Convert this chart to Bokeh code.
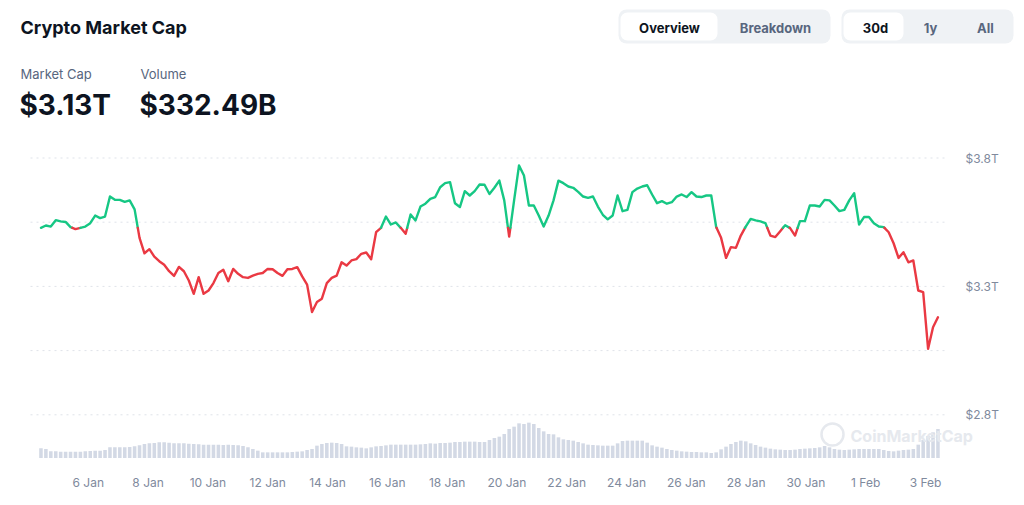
import numpy as np
import pandas as pd
from bokeh.plotting import figure
from bokeh.models import Range1d
from bokeh.core.properties import value
from bokeh.embed import file_html
from bokeh.resources import INLINE

# ---------------- data ----------------
start_time = "2025-01-04 10:00"
end_time = "2025-02-03 10:00"

market_cap_t = [
    3.528, 3.537, 3.533, 3.558, 3.553, 3.551, 3.531, 3.523, 3.528, 3.533,
    3.546, 3.576, 3.566, 3.572, 3.650, 3.637, 3.637, 3.629, 3.635, 3.600,
    3.489, 3.429, 3.445, 3.416, 3.398, 3.384, 3.359, 3.341, 3.376, 3.359,
    3.323, 3.271, 3.336, 3.271, 3.284, 3.313, 3.352, 3.365, 3.320, 3.368,
    3.349, 3.336, 3.333, 3.342, 3.349, 3.352, 3.368, 3.367, 3.352, 3.341,
    3.367, 3.368, 3.375, 3.339, 3.307, 3.200, 3.239, 3.252, 3.313, 3.333,
    3.342, 3.394, 3.381, 3.401, 3.406, 3.427, 3.432, 3.406, 3.511, 3.528,
    3.572, 3.541, 3.549, 3.528, 3.505, 3.580, 3.557, 3.611, 3.622, 3.641,
    3.648, 3.686, 3.702, 3.706, 3.624, 3.609, 3.671, 3.654, 3.671, 3.697,
    3.696, 3.660, 3.684, 3.712, 3.635, 3.494, 3.635, 3.771, 3.732, 3.615,
    3.615, 3.576, 3.533, 3.576, 3.635, 3.712, 3.702, 3.689, 3.684, 3.668,
    3.650, 3.645, 3.650, 3.611, 3.579, 3.561, 3.576, 3.654, 3.593, 3.598,
    3.667, 3.681, 3.689, 3.694, 3.658, 3.624, 3.632, 3.622, 3.628, 3.650,
    3.658, 3.648, 3.667, 3.650, 3.648, 3.654, 3.654, 3.531, 3.489, 3.411,
    3.453, 3.450, 3.498, 3.533, 3.563, 3.557, 3.553, 3.546, 3.498, 3.492,
    3.515, 3.538, 3.527, 3.498, 3.554, 3.554, 3.615, 3.615, 3.611, 3.637,
    3.635, 3.615, 3.593, 3.598, 3.635, 3.663, 3.541, 3.570, 3.570, 3.546,
    3.533, 3.531, 3.511, 3.468, 3.411, 3.433, 3.394, 3.401, 3.284, 3.278,
    3.057, 3.141, 3.180,
]

volume_b = [
    87, 81, 60, 60, 57, 57, 57, 57, 57, 60,
    63, 66, 66, 72, 96, 96, 96, 96, 99, 105,
    114, 126, 132, 135, 141, 141, 138, 132, 132, 132,
    129, 126, 123, 120, 120, 120, 120, 117, 120, 117,
    114, 108, 96, 81, 66, 51, 51, 51, 51, 51,
    51, 54, 57, 60, 72, 81, 111, 126, 135, 138,
    135, 126, 105, 102, 96, 93, 87, 96, 105, 108,
    114, 120, 120, 120, 120, 120, 120, 123, 126, 132,
    129, 135, 135, 138, 144, 144, 147, 147, 147, 144,
    144, 162, 180, 192, 216, 261, 282, 312, 306, 318,
    306, 270, 240, 216, 213, 186, 168, 162, 156, 144,
    132, 120, 117, 114, 111, 111, 111, 132, 153, 156,
    156, 156, 156, 138, 114, 102, 93, 81, 72, 66,
    60, 57, 54, 54, 51, 51, 45, 51, 78, 102,
    126, 144, 156, 150, 132, 117, 102, 93, 84, 78,
    75, 72, 72, 75, 81, 84, 87, 90, 96, 108,
    96, 81, 75, 72, 75, 78, 81, 81, 81, 81,
    81, 72, 63, 60, 66, 72, 75, 81, 120, 162,
    198, 231, 261,
]

tick_dates = ["2025-01-06", "2025-01-08", "2025-01-10", "2025-01-12", "2025-01-14",
              "2025-01-16", "2025-01-18", "2025-01-20", "2025-01-22", "2025-01-24",
              "2025-01-26", "2025-01-28", "2025-01-30", "2025-02-01", "2025-02-03"]
tick_labels = ["6 Jan", "8 Jan", "10 Jan", "12 Jan", "14 Jan", "16 Jan", "18 Jan",
               "20 Jan", "22 Jan", "24 Jan", "26 Jan", "28 Jan", "30 Jan", "1 Feb", "3 Feb"]
y_label_ticks = [2.8, 3.3, 3.8]
y_tick_labels = ["$2.8T", "$3.3T", "$3.8T"]
y_grid_ticks = [2.8, 3.05, 3.3, 3.55, 3.8]

header_title = "Crypto Market Cap"
stat_names = ["Market Cap", "Volume"]
stat_values = ["$3.13T", "$332.49B"]
view_tabs = ["Overview", "Breakdown"]
range_tabs = ["30d", "1y", "All"]

# ---------------- styles / layout (image pixels) ----------------
FONT = value("Inter")
GREEN = "#16c784"
RED = "#ea3943"
DARK = "#0d1421"
GRAY = "#58667e"
AXIS_GRAY = "#808a9d"

W, H = 1016, 497            # canvas, placed at the image origin
PX_PER_DAY = 29.9
X_ANCHOR_PAGE = 87.8        # image x of first tick date
Y38_PAGE, PX_PER_T = 157.5, 256.8
VOL_BASE_PAGE, VOL_PER_PX = 457.5, 9.0
DAY_MS = 86400000.0

anchor_ms = pd.Timestamp(tick_dates[0]).value / 1e6
x_lo = anchor_ms + (0 - X_ANCHOR_PAGE) / PX_PER_DAY * DAY_MS
x_hi = anchor_ms + (W - X_ANCHOR_PAGE) / PX_PER_DAY * DAY_MS
y_hi = 3.8 + Y38_PAGE / PX_PER_T
y_lo = 3.8 - (H - Y38_PAGE) / PX_PER_T

p = figure(width=W, height=H, x_range=Range1d(x_lo, x_hi), y_range=Range1d(y_lo, y_hi),
           x_axis_location=None, y_axis_location=None, toolbar_location=None,
           output_backend="svg", min_border=0, outline_line_color=None)
p.grid.visible = False
p.extra_x_ranges = {"px": Range1d(0, W)}
p.extra_y_ranges = {"py": Range1d(H, 0),
                    "vol": Range1d(-(H - VOL_BASE_PAGE) * VOL_PER_PX,
                                   VOL_BASE_PAGE * VOL_PER_PX)}

# ---------------- header ----------------
p.quad(left=[618, 841], right=[830, 1013], top=[9, 9], bottom=[43, 43],
       fill_color="#eff2f5", line_color=None, border_radius=8,
       x_range_name="px", y_range_name="py")
p.quad(left=[620, 843], right=[717, 903], top=[12, 12], bottom=[40, 40],
       fill_color="#ffffff", line_color=None, border_radius=7,
       x_range_name="px", y_range_name="py")

def ptext(xs, ys, texts, size, color, bold=True, align="left"):
    p.text(x=xs, y=ys, text=texts, text_font=FONT, text_font_size=size,
           text_color=color, text_font_style="bold" if bold else "normal",
           text_align=align, text_baseline="middle",
           x_range_name="px", y_range_name="py")

ptext([20], [27], [header_title], "18px", DARK)
ptext([20, 140], [73, 73], stat_names, "13px", GRAY, bold=False)
ptext([19, 139], [104, 104], stat_values, "28px", DARK)
ptext([669], [27], [view_tabs[0]], "13px", DARK, align="center")
ptext([775], [27], [view_tabs[1]], "13px", GRAY, align="center")
ptext([875], [27], [range_tabs[0]], "13px", DARK, align="center")
ptext([930, 985], [27, 27], range_tabs[1:], "13px", GRAY, align="center")

# ---------------- chart ----------------
times = pd.date_range(start_time, end_time, periods=len(market_cap_t))
t_ms = (times.astype("int64") // 10**6).to_numpy().astype(float)
mc = np.array(market_cap_t, dtype=float)
vol = np.array(volume_b, dtype=float)

# dotted grid lines (plot area spans image x 30..945)
p.segment(x0=[30] * len(y_grid_ticks), x1=[945] * len(y_grid_ticks),
          y0=y_grid_ticks, y1=y_grid_ticks, line_color="#dfe3e9",
          line_dash="2 4", line_width=1, x_range_name="px")

step_ms = t_ms[1] - t_ms[0]
p.vbar(x=t_ms, top=vol, bottom=0, width=step_ms * 0.72, y_range_name="vol",
       fill_color="#d3d9e5", line_color=None)

# watermark
p.scatter(x=[832], y=[434], marker="circle", size=22, fill_color=None,
          line_color="#e6e9ee", line_width=2.5, x_range_name="px", y_range_name="py")
ptext([850], [435], ["CoinMarketCap"], "16px", "#e6e9ee")

# line split into runs above / below the first value
base = mc[0]
runs_x, runs_y, runs_c = [], [], []
cur_x, cur_y = [t_ms[0]], [mc[0]]
cur_up = mc[0] >= base
for i in range(1, len(mc)):
    up = mc[i] >= base
    if up == cur_up:
        cur_x.append(t_ms[i]); cur_y.append(mc[i])
    else:
        f = (base - mc[i - 1]) / (mc[i] - mc[i - 1])
        xc = t_ms[i - 1] + f * (t_ms[i] - t_ms[i - 1])
        cur_x.append(xc); cur_y.append(base)
        runs_x.append(cur_x); runs_y.append(cur_y); runs_c.append(GREEN if cur_up else RED)
        cur_x, cur_y = [xc, t_ms[i]], [base, mc[i]]
        cur_up = up
runs_x.append(cur_x); runs_y.append(cur_y); runs_c.append(GREEN if cur_up else RED)

p.multi_line(xs=runs_x, ys=runs_y, line_color=runs_c, line_width=2.4,
             line_join="round", line_cap="round")

# axis labels
tick_ms = [pd.Timestamp(d).value / 1e6 for d in tick_dates]
p.text(x=tick_ms, y=[482] * len(tick_ms), text=tick_labels, text_font=FONT,
       text_font_size="12px", text_color=AXIS_GRAY, text_align="center",
       text_baseline="middle", y_range_name="py")
p.text(x=[965] * len(y_label_ticks), y=y_label_ticks, text=y_tick_labels, text_font=FONT,
       text_font_size="12px", text_color=AXIS_GRAY, text_align="left",
       text_baseline="middle", x_range_name="px")

open("out.html", "w").write(file_html(p, INLINE))
